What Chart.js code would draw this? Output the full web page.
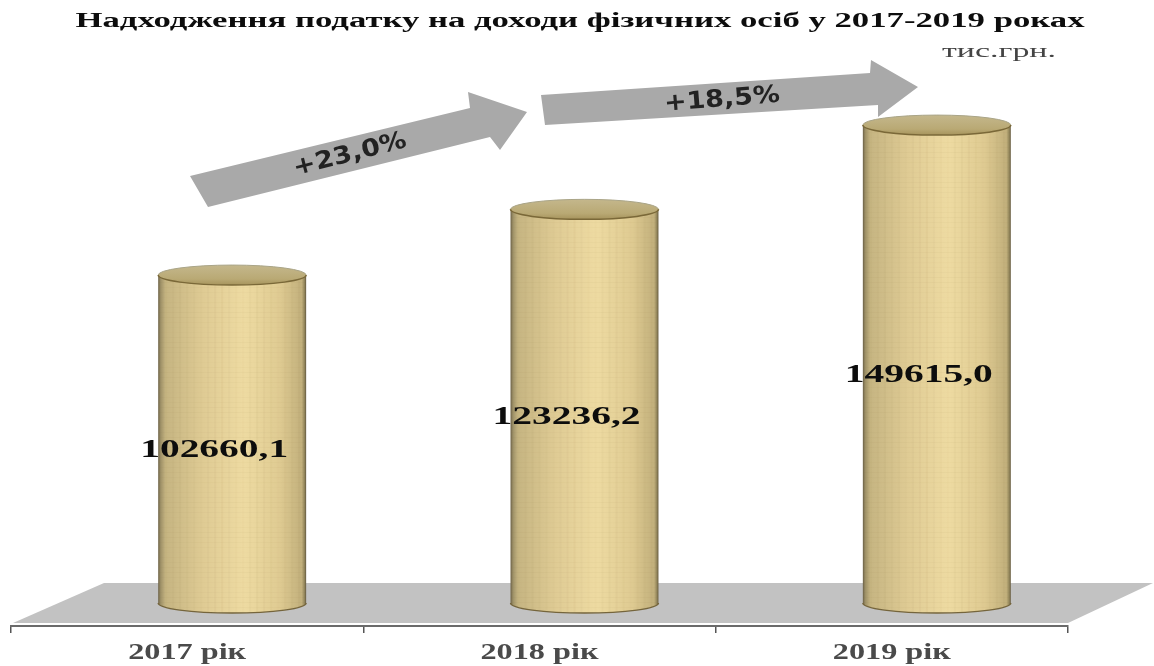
<!DOCTYPE html>
<html lang="uk"><head><meta charset="utf-8">
<style>html,body{margin:0;padding:0;background:#fff}canvas{display:block;filter:blur(0.7px)}</style>
<script src="https://cdn.jsdelivr.net/npm/chart.js@4"></script></head>
<body><canvas id="c" width="1154" height="666"></canvas>
<script>
const categories = ["2017 рік", "2018 рік", "2019 рік"];
const values = [102660.1, 123236.2, 149615.0];
const growthLabels = ["+23,0%", "+18,5%"];
const titleText = "Надходження податку на доходи фізичних осіб у 2017-2019 роках";
const unitText = "тис.грн.";

const DEPTH_X = 45, DEPTH_Y = -23, RY = 10;
const SERIF = '"Liberation Serif","DejaVu Serif",serif';
let patterns = [];

function stretched(ctx, text, cx, cy, font, width, color) {
  ctx.save();
  ctx.font = font; ctx.fillStyle = color;
  ctx.textAlign = 'center'; ctx.textBaseline = 'middle';
  const sx = width / ctx.measureText(text).width;
  ctx.translate(cx, cy); ctx.scale(sx, 1);
  ctx.fillText(text, 0, 0);
  ctx.restore();
}
function poly(ctx, pts, fill) {
  ctx.beginPath();
  pts.forEach((p, i) => i ? ctx.lineTo(p[0], p[1]) : ctx.moveTo(p[0], p[1]));
  ctx.closePath(); ctx.fillStyle = fill; ctx.fill();
}
function texture(w, h) {
  const cv = document.createElement('canvas'); cv.width = w; cv.height = h;
  const g = cv.getContext('2d');
  const gr = g.createLinearGradient(0, 0, w, 0);
  gr.addColorStop(0, '#6b6248'); gr.addColorStop(0.015, '#9c8f66');
  gr.addColorStop(0.05, '#c6b582'); gr.addColorStop(0.3, '#dfcb94');
  gr.addColorStop(0.58, '#eedba2'); gr.addColorStop(0.82, '#dfcb92');
  gr.addColorStop(0.97, '#c2b07c'); gr.addColorStop(0.99, '#8f8258'); gr.addColorStop(1, '#5e5540');
  g.fillStyle = gr; g.fillRect(0, 0, w, h);
  for (let x = 0; x < w; x += 7) {
    g.fillStyle = `rgba(130,105,50,${0.012 + 0.028 * Math.abs(Math.sin(x * 0.37))})`;
    g.fillRect(x, 0, 2, h);
  }
  for (let y = 0; y < h; y += 5) {
    g.fillStyle = `rgba(130,105,50,${0.012 + 0.028 * Math.abs(Math.sin(y * 0.53))})`;
    g.fillRect(0, y, w, 1);
  }
  return cv;
}
const scene = {
  id: 'scene',
  afterLayout(chart) {
    const x = chart.scales.x, bw = 148;
    const tile = texture(bw, 700);
    patterns = categories.map((_, i) => {
      const p = chart.ctx.createPattern(tile, 'repeat');
      p.setTransform(new DOMMatrix().translate(x.getPixelForValue(i) - bw / 2, 0));
      return p;
    });
  },
  beforeDatasetsDraw(chart) {
    const ctx = chart.ctx;
    poly(ctx, [[13, 623], [104, 583], [1153, 583], [1068, 623]], '#c2c2c2');
  },
  beforeDatasetDraw(chart) {
    const ctx = chart.ctx;
    chart.getDatasetMeta(0).data.forEach((el, i) => {
      const cx = el.x, r = el.width / 2, b = el.base;
      ctx.save(); ctx.translate(DEPTH_X, DEPTH_Y);
      ctx.beginPath(); ctx.ellipse(cx, b, r, RY, 0, 0, Math.PI);
      ctx.fillStyle = patterns[i]; ctx.fill();
      ctx.lineWidth = 1.4; ctx.strokeStyle = '#75653c'; ctx.stroke();
      ctx.restore();
    });
    ctx.save(); ctx.translate(DEPTH_X, DEPTH_Y);
  },
  afterDatasetDraw(chart) {
    const ctx = chart.ctx;
    ctx.restore();
    chart.getDatasetMeta(0).data.forEach((el, i) => {
      const cx = el.x + DEPTH_X, r = el.width / 2, t = el.y + DEPTH_Y;
      const g = ctx.createLinearGradient(0, t - RY, 0, t + RY);
      g.addColorStop(0, '#c4b78c'); g.addColorStop(0.7, '#b9a974'); g.addColorStop(1, '#a6935c');
      ctx.beginPath(); ctx.ellipse(cx, t, r, RY, 0, 0, 2 * Math.PI);
      ctx.fillStyle = g; ctx.fill();
      ctx.lineWidth = 1; ctx.strokeStyle = '#a9a487';
      ctx.beginPath(); ctx.ellipse(cx, t, r, RY, 0, Math.PI, 2 * Math.PI); ctx.stroke();
      ctx.lineWidth = 1.5; ctx.strokeStyle = '#7a6838';
      ctx.beginPath(); ctx.ellipse(cx, t, r, RY, 0, 0, Math.PI); ctx.stroke();
      const mid = (el.y + el.base) / 2;
      stretched(ctx, values[i].toFixed(1).replace('.', ','), el.x + 27, mid - 12,
        'bold 26px ' + SERIF, 148, '#0d0d0d');
    });
  },
  afterDraw(chart) {
    const ctx = chart.ctx, x = chart.scales.x;
    categories.forEach((c, i) =>
      stretched(ctx, x.getLabelForValue(i), x.getPixelForValue(i), 653, 'bold 23px ' + SERIF, 118, '#4a4a4a'));
    stretched(ctx, titleText, 580, 22, 'bold 20px ' + SERIF, 1009, '#0d0d0d');
    stretched(ctx, unitText, 999, 52, '18px ' + SERIF, 114, '#444');
    poly(ctx, [[190, 176], [470, 108], [468, 92], [527, 112], [500, 150], [490, 137], [208, 207]], '#a9a9a9');
    poly(ctx, [[541, 95], [870, 73], [871, 60], [918, 87], [878, 117], [878, 105], [545, 125]], '#a9a9a9');
    const txt = (s, cx, cy, a) => {
      ctx.save(); ctx.translate(cx, cy); ctx.rotate(a);
      stretched(ctx, s, 0, 0, 'bold 24px "DejaVu Sans",sans-serif', 116, '#222');
      ctx.restore();
    };
    txt(growthLabels[0], 350, 155, -0.25);
    txt(growthLabels[1], 722, 100, -0.08);
  }
};
new Chart(document.getElementById('c'), {
  type: 'bar',
  data: { labels: categories, datasets: [{
    data: values,
    backgroundColor: c => patterns[c.dataIndex] || 'transparent',
    borderWidth: 0, barPercentage: 0.42, categoryPercentage: 1, clip: false
  }] },
  options: {
    responsive: false, animation: false,
    layout: { padding: { left: 11, right: 86, top: 51, bottom: 0 } },
    plugins: { legend: { display: false }, tooltip: { enabled: false }, title: { display: false } },
    scales: {
      x: {
        grid: { display: true, drawOnChartArea: false, drawTicks: true, tickLength: 7, color: '#555', lineWidth: 1.5 },
        border: { display: true, color: '#6a6a6a', width: 2 },
        ticks: { display: false },
        afterFit(s) { s.height = 40; }
      },
      y: { display: false, min: 0, max: 180000 }
    }
  },
  plugins: [scene]
});
</script></body></html>
